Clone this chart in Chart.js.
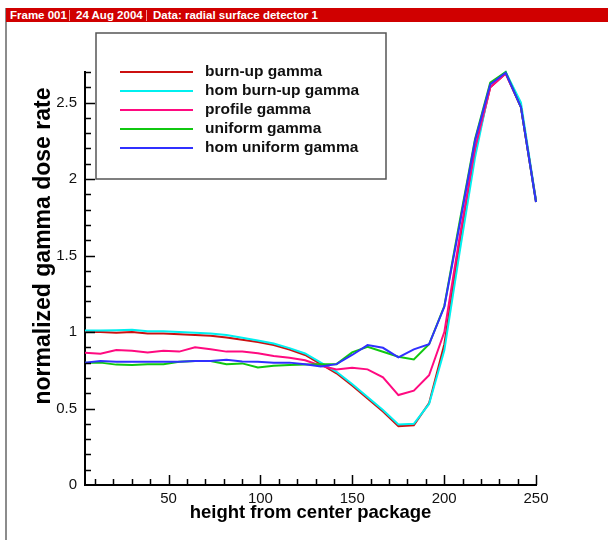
<!DOCTYPE html>
<html>
<head>
<meta charset="utf-8">
<script src="https://cdn.jsdelivr.net/npm/chart.js@4.4.1/dist/chart.umd.min.js"></script>
<style>
  html, body { margin: 0; padding: 0; background: #fff; }
  #wrap { position: relative; width: 608px; height: 540px; overflow: hidden; }
  #chart { position: absolute; left: 0; top: 0; }
  #frame { position: absolute; left: 5px; top: 8px; width: 2px; height: 540px; background: #8c8c8c; }
  #header { position: absolute; left: 6px; top: 8px; right: 0; height: 14px; background: #d00000; }
  #header span { position: absolute; top: 0; color: #fff; font: bold 11.5px "Liberation Sans", Arial, sans-serif; line-height: 14px; white-space: nowrap; }
  #header i { position: absolute; top: 2px; width: 1px; height: 11px; background: #f29a9a; }
</style>
</head>
<body>
<div id="wrap">
  <canvas id="chart" width="608" height="540"></canvas>
  <div id="frame"></div>
  <div id="header">
    <span style="left:4px">Frame 001</span><i style="left:63px"></i>
    <span style="left:70px">24 Aug 2004</span><i style="left:140px"></i>
    <span style="left:147px">Data: radial surface detector 1</span>
  </div>
</div>
<script>
// height from center package (x of every sample)
const heights = [4.5, 12.9, 21.5, 30.1, 38.6, 47.2, 55.8, 64.4, 72.9, 81.5,
  90.1, 98.6, 107.2, 115.8, 124.3, 132.9, 141.4, 149.9, 158.3, 166.7,
  175.1, 183.5, 191.8, 200.1, 208.4, 216.8, 225.1, 233.5, 241.8, 250.0];

const burnUp = [1.00, 1.00, 0.995, 1.00, 0.99, 0.99, 0.985, 0.98, 0.975, 0.965,
  0.95, 0.935, 0.915, 0.885, 0.85, 0.79, 0.73, 0.65, 0.565, 0.48,
  0.385, 0.39, 0.535, 0.92, 1.58, 2.18, 2.60, 2.69, 2.47, 1.86];
const homBurnUp = [1.01, 1.01, 1.012, 1.015, 1.005, 1.005, 1.0, 0.995, 0.99, 0.98,
  0.962, 0.945, 0.925, 0.895, 0.86, 0.80, 0.74, 0.66, 0.575, 0.49,
  0.395, 0.40, 0.53, 0.88, 1.52, 2.14, 2.62, 2.70, 2.50, 1.86];
const profile = [0.865, 0.858, 0.882, 0.878, 0.867, 0.878, 0.872, 0.90, 0.887, 0.872,
  0.872, 0.861, 0.843, 0.832, 0.815, 0.78, 0.755, 0.767, 0.756, 0.704,
  0.588, 0.617, 0.717, 1.0, 1.62, 2.2, 2.6, 2.69, 2.47, 1.85];
const uniform = [0.80, 0.80, 0.787, 0.785, 0.79, 0.79, 0.805, 0.81, 0.81, 0.79,
  0.795, 0.768, 0.78, 0.785, 0.787, 0.79, 0.79, 0.867, 0.904, 0.871,
  0.838, 0.821, 0.92, 1.17, 1.72, 2.26, 2.63, 2.70, 2.47, 1.85];
const homUniform = [0.80, 0.81, 0.805, 0.805, 0.805, 0.805, 0.805, 0.81, 0.81, 0.818,
  0.808, 0.806, 0.80, 0.80, 0.79, 0.775, 0.79, 0.85, 0.915, 0.897,
  0.834, 0.887, 0.92, 1.165, 1.70, 2.25, 2.62, 2.695, 2.47, 1.85];

const seriesNames = ["burn-up gamma", "hom burn-up gamma", "profile gamma", "uniform gamma", "hom uniform gamma"];
const seriesColors = ["#cc1010", "#00f0f0", "#ff0a80", "#10c810", "#3030ff"];
const xTicks = [50, 100, 150, 200, 250];
const yTicks = [0, 0.5, 1, 1.5, 2, 2.5];

const FONT = '"Liberation Sans", Arial, sans-serif';

function pairs(values) {
  return values.map((v, i) => ({ x: heights[i], y: v }));
}

// tecplot-like inside ticks, axis titles and the boxed legend
const decorations = {
  id: "decorations",
  afterDraw(chart) {
    const { ctx, chartArea: a, scales } = chart;
    const x = scales.x;
    const y = scales.y;
    ctx.save();
    ctx.strokeStyle = "#000";
    ctx.lineWidth = 1.5;
    ctx.beginPath();
    for (let v = 10; v <= 250; v += 10) {
      const px = Math.round(x.getPixelForValue(v)) + 0.5;
      const len = v % 50 === 0 ? 10 : 6;
      ctx.moveTo(px, a.bottom);
      ctx.lineTo(px, a.bottom - len);
    }
    for (let i = 1; i <= 27; i++) {
      const py = Math.round(y.getPixelForValue(i / 10)) + 0.5;
      const len = i % 5 === 0 ? 10 : 6;
      ctx.moveTo(a.left, py);
      ctx.lineTo(a.left + len, py);
    }
    ctx.stroke();

    ctx.fillStyle = "#000";
    ctx.textAlign = "center";
    ctx.textBaseline = "middle";
    ctx.font = "bold 18.5px " + FONT;
    ctx.fillText("height from center package", (a.left + a.right) / 2, 513);
    ctx.save();
    ctx.translate(44, 246);
    ctx.rotate(-Math.PI / 2);
    ctx.font = "bold 23px " + FONT;
    ctx.fillText("normalized gamma dose rate", 0, 0);
    ctx.restore();

    // legend
    ctx.fillStyle = "#fff";
    ctx.fillRect(96, 33, 290, 146);
    ctx.strokeStyle = "#555";
    ctx.lineWidth = 1.5;
    ctx.strokeRect(96, 33, 290, 146);
    ctx.font = "bold 15.5px " + FONT;
    ctx.textAlign = "left";
    seriesNames.forEach((name, i) => {
      const ry = 72 + i * 19;
      ctx.strokeStyle = seriesColors[i];
      ctx.lineWidth = 2;
      ctx.beginPath();
      ctx.moveTo(120, ry);
      ctx.lineTo(193, ry);
      ctx.stroke();
      ctx.fillStyle = "#111";
      ctx.fillText(name, 205, ry);
    });
    ctx.restore();
  },
};

const allSeries = [burnUp, homBurnUp, profile, uniform, homUniform];

new Chart(document.getElementById("chart"), {
  type: "line",
  data: {
    datasets: allSeries.map((vals, i) => ({
      label: seriesNames[i],
      data: pairs(vals),
      borderColor: seriesColors[i],
      borderWidth: 2,
      pointRadius: 0,
      tension: 0,
      clip: false,
      order: allSeries.length - 1 - i,
    })),
  },
  options: {
    responsive: false,
    animation: false,
    layout: { padding: { top: 72, right: 72, left: 0, bottom: 0 } },
    plugins: { legend: { display: false }, tooltip: { enabled: false } },
    scales: {
      x: {
        type: "linear",
        min: 4.5,
        max: 250,
        grid: { display: false, drawTicks: false },
        border: { display: true, color: "#000", width: 2 },
        afterBuildTicks: (s) => { s.ticks = xTicks.map((v) => ({ value: v })); },
        afterFit: (s) => { s.height = 55; },
        ticks: { color: "#111", padding: 5, font: { family: FONT, size: 15 }, callback: (v) => String(v) },
      },
      y: {
        type: "linear",
        min: 0,
        max: 2.7,
        grid: { display: false, drawTicks: false },
        border: { display: true, color: "#000", width: 2 },
        afterBuildTicks: (s) => { s.ticks = yTicks.map((v) => ({ value: v })); },
        afterFit: (s) => { s.width = 85; },
        ticks: { color: "#111", padding: 8, font: { family: FONT, size: 15 }, callback: (v) => String(v) },
      },
    },
  },
  plugins: [decorations],
});
</script>
</body>
</html>
